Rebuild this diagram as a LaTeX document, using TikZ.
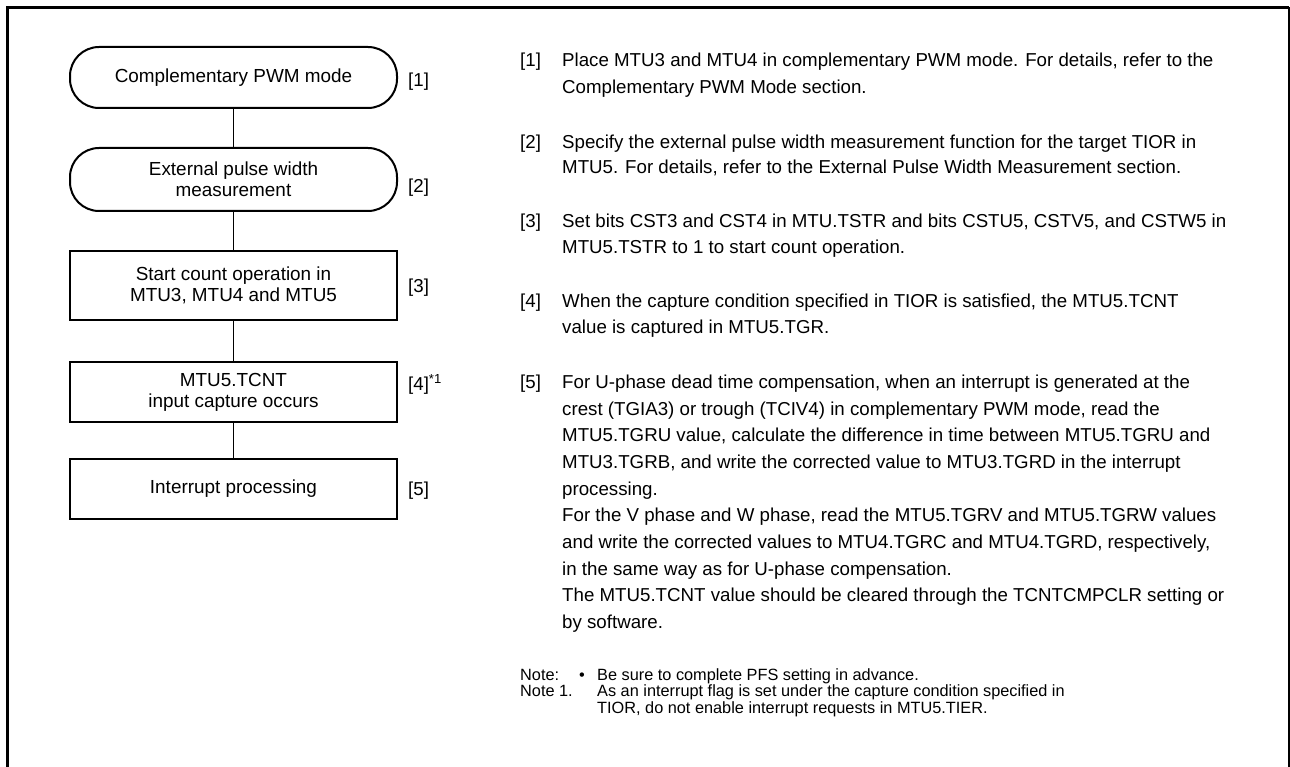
\documentclass[tikz,border=0pt]{standalone}
\usepackage{fontspec}
\setmainfont{Liberation Sans}
\begin{document}
\begin{tikzpicture}[x=1pt,y=-1pt,
  boxfont/.style={font=\fontsize{18.9}{21}\selectfont},
  stadium/.style={draw, line width=2pt, rounded corners=29pt, minimum width=327pt, align=center, inner sep=0pt, boxfont},
  procbox/.style={draw, line width=2pt, minimum width=327pt, align=center, inner sep=0pt, boxfont},
  conn/.style={line width=1pt},
  lbl/.style={anchor=base west, inner sep=0pt, font=\fontsize{18.7}{22}\selectfont},
  notetxt/.style={anchor=base west, inner sep=0pt, font=\fontsize{16.3}{19}\selectfont}]
\useasboundingbox (0,0) rectangle (1290,767);
% frame
\draw[line width=3pt] (7.5,767) -- (7.5,7.5) -- (1289,7.5);
\draw[line width=1.2pt] (1289,7.5) -- (1289,767);
% flowchart
\node[stadium, minimum height=61pt] (s1) at (233.5,77.5) {Complementary PWM mode};
\node[stadium, minimum height=63pt] (s2) at (233.5,179.5) {External pulse width\\measurement};
\node[procbox, minimum height=69pt] (s3) at (233.5,285.5) {Start count operation in\\MTU3, MTU4 and MTU5};
\node[procbox, minimum height=60pt] (s4) at (233.5,392) {MTU5.TCNT\\input capture occurs};
\node[procbox, minimum height=60pt] (s5) at (233.5,489) {Interrupt processing};
\draw[conn] (s1) -- (s2);
\draw[conn] (s2) -- (s3);
\draw[conn] (s3) -- (s4);
\draw[conn] (s4) -- (s5);
% step labels
\node[lbl] (l1) at (408,87) {[1]};
\node[lbl] (l2) at (408,193) {[2]};
\node[lbl] (l3) at (408,292) {[3]};
\node[lbl] (l4) at (408,390) {[4]\textsuperscript{*1}};
\node[lbl] (l5) at (408,495) {[5]};
% descriptions
\node[lbl] (d1n) at (520,66.7) {[1]};
\node[lbl] (d1a) at (562,66.7) {Place MTU3 and MTU4 in complementary PWM mode. For details, refer to the};
\node[lbl] (d1b) at (562,93.4) {Complementary PWM Mode section.};
\node[lbl] (d2n) at (520,148.4) {[2]};
\node[lbl] (d2a) at (562,148.4) {Specify the external pulse width measurement function for the target TIOR in};
\node[lbl] (d2b) at (562,174) {MTU5. For details, refer to the External Pulse Width Measurement section.};
\node[lbl] (d3n) at (520,227.4) {[3]};
\node[lbl] (d3a) at (562,227.4) {Set bits CST3 and CST4 in MTU.TSTR and bits CSTU5, CSTV5, and CSTW5 in};
\node[lbl] (d3b) at (562,254) {MTU5.TSTR to 1 to start count operation.};
\node[lbl] (d4n) at (520,307.4) {[4]};
\node[lbl] (d4a) at (562,307.4) {When the capture condition specified in TIOR is satisfied, the MTU5.TCNT};
\node[lbl] (d4b) at (562,334) {value is captured in MTU5.TGR.};
\node[lbl] (d5n) at (520,388.4) {[5]};
\node[lbl] (d5a) at (562,388.4) {For U-phase dead time compensation, when an interrupt is generated at the};
\node[lbl] (d5b) at (562,415) {crest (TGIA3) or trough (TCIV4) in complementary PWM mode, read the};
\node[lbl] (d5c) at (562,441.7) {MTU5.TGRU value, calculate the difference in time between MTU5.TGRU and};
\node[lbl] (d5d) at (562,468.4) {MTU3.TGRB, and write the corrected value to MTU3.TGRD in the interrupt};
\node[lbl] (d5e) at (562,495) {processing.};
\node[lbl] (d5f) at (562,521.7) {For the V phase and W phase, read the MTU5.TGRV and MTU5.TGRW values};
\node[lbl] (d5g) at (562,548.4) {and write the corrected values to MTU4.TGRC and MTU4.TGRD, respectively,};
\node[lbl] (d5h) at (562,575) {in the same way as for U-phase compensation.};
\node[lbl] (d5i) at (562,601.7) {The MTU5.TCNT value should be cleared through the TCNTCMPCLR setting or};
\node[lbl] (d5j) at (562,628.4) {by software.};
% notes
\node[notetxt] (n0) at (520,680) {Note:};
\node[notetxt] (nb) at (579,680) {\textbullet};
\node[notetxt] (n0t) at (597,680) {Be sure to complete PFS setting in advance.};
\node[notetxt] (n1) at (520,696.5) {Note 1.};
\node[notetxt] (n1a) at (597,696.5) {As an interrupt flag is set under the capture condition specified in};
\node[notetxt] (n1b) at (597,713) {TIOR, do not enable interrupt requests in MTU5.TIER.};
\end{tikzpicture}
\end{document}
